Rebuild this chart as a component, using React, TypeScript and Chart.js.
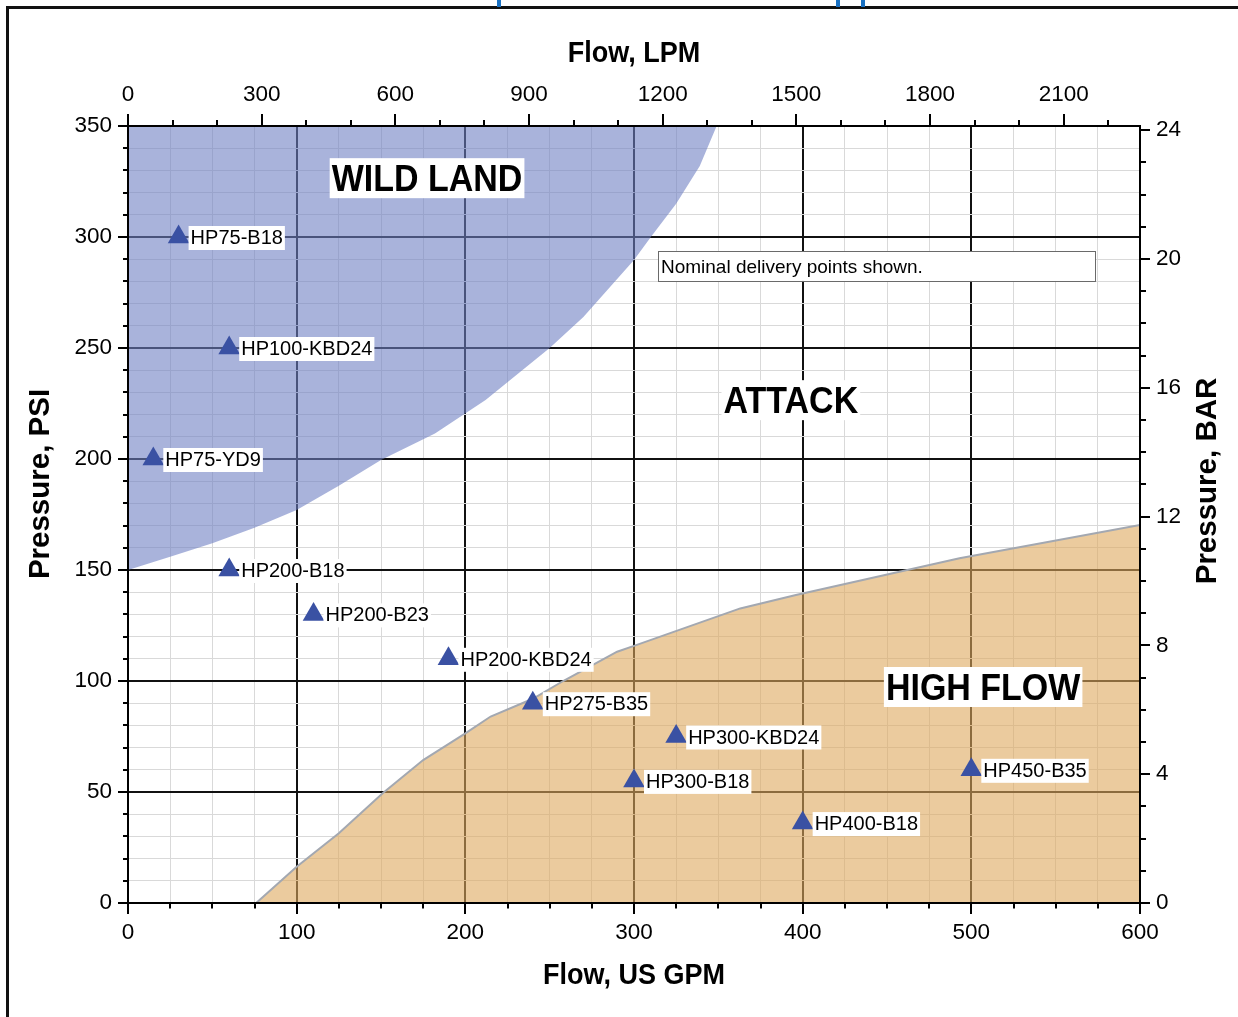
import React, { useEffect, useRef } from "react";
import { Chart, registerables } from "chart.js";

Chart.register(...registerables);

const FONT = 'Arial, "Liberation Sans", sans-serif';

// Boundary of the WILD LAND region (US GPM, PSI)
const wildLandFlow = [0, 25, 50, 75, 100, 125, 150, 182, 212, 250, 270, 300, 310, 325, 339, 349];
const wildLandPsi = [150, 156, 162, 169, 177, 188, 199.5, 211.5, 226.6, 250, 264, 289.6, 300, 315, 332, 350];

// Boundary of the HIGH FLOW region (US GPM, PSI)
const highFlowFlow = [76, 100, 125, 151, 175, 200, 215, 240, 258, 290, 300, 363, 396, 493, 600];
const highFlowPsi = [0, 16.3, 31.4, 49.4, 64.4, 76.4, 84, 92, 100, 113.2, 115.8, 132.7, 138.7, 155.3, 170.3];

// Nominal delivery points
const modelNames = ["HP75-B18", "HP100-KBD24", "HP75-YD9", "HP200-B18", "HP200-B23", "HP200-KBD24", "HP275-B35", "HP300-KBD24", "HP300-B18", "HP400-B18", "HP450-B35"];
const modelFlow = [30, 60, 15, 60, 110, 190, 240, 325, 300, 400, 500];
const modelPsi = [300, 250, 200, 150, 130, 110, 90, 75, 55, 36, 60];

// Region names and their anchor (GPM, PSI)
const regionNames = ["WILD LAND", "ATTACK", "HIGH FLOW"];
const regionFlow = [177.3, 393, 507];
const regionPsi = [326.5, 226.5, 97.3];

const noteText = "Nominal delivery points shown.";

// Axis ranges / tick steps
const gpmMax = 600;
const psiMax = 350;
const LPM_PER_GPM = 3.78541;
const PSI_PER_BAR = 14.5038;
const gpmTicks = Array.from({ length: 25 }, (_, i) => i * 25);
const psiTicks = Array.from({ length: 36 }, (_, i) => i * 10);
const lpmTicks = Array.from({ length: 23 }, (_, i) => i * 100);
const barTicks = Array.from({ length: 25 }, (_, i) => i);

const App = () => {
  const ref = useRef<HTMLCanvasElement>(null);

  useEffect(() => {
    const canvas = ref.current;
    if (!canvas) return;

    const deco = {
      id: "deco",
      beforeDraw(chart: any) {
        const ctx = chart.ctx;
        ctx.save();
        ctx.fillStyle = "#ffffff";
        ctx.fillRect(0, 0, chart.width, chart.height);
        ctx.restore();
      },
      afterDatasetsDraw(chart: any) {
        const ctx = chart.ctx;
        const xs = chart.scales.x;
        const ys = chart.scales.y;
        ctx.save();
        // model labels
        const meta = chart.getDatasetMeta(2);
        ctx.font = `20px ${FONT}`;
        ctx.textBaseline = "alphabetic";
        ctx.textAlign = "left";
        meta.data.forEach((pt: any, i: number) => {
          const t = modelNames[i];
          const w = ctx.measureText(t).width;
          const tx = pt.x + 12;
          ctx.fillStyle = "#ffffff";
          ctx.fillRect(tx - 2, pt.y - 11, w + 4, 24);
          ctx.fillStyle = "#000000";
          ctx.fillText(t, tx, pt.y + 7);
        });
        // region labels
        ctx.font = `bold 34px ${FONT}`;
        regionNames.forEach((t, i) => {
          const cx = xs.getPixelForValue(regionFlow[i]);
          const cy = ys.getPixelForValue(regionPsi[i]);
          const w = ctx.measureText(t).width;
          ctx.fillStyle = "#ffffff";
          ctx.fillRect(cx - w / 2 - 2, cy - 20, w + 4, 40);
          ctx.fillStyle = "#000000";
          ctx.textAlign = "center";
          ctx.save();
          ctx.translate(cx, cy + 13);
          ctx.scale(1, 1.08);
          ctx.fillText(t, 0, 0);
          ctx.restore();
        });
        // note box
        const bx0 = xs.getPixelForValue(314.2);
        const bx1 = xs.getPixelForValue(573.3);
        const by0 = ys.getPixelForValue(293.7);
        const by1 = ys.getPixelForValue(280.2);
        ctx.fillStyle = "#ffffff";
        ctx.fillRect(bx0, by0, bx1 - bx0, by1 - by0);
        ctx.strokeStyle = "#6a6a6a";
        ctx.lineWidth = 1;
        ctx.strokeRect(Math.round(bx0) + 0.5, Math.round(by0) + 0.5, Math.round(bx1 - bx0), Math.round(by1 - by0));
        ctx.fillStyle = "#000000";
        ctx.textAlign = "left";
        ctx.font = `19px ${FONT}`;
        ctx.fillText(noteText, bx0 + 3, (by0 + by1) / 2 + 7);
        ctx.restore();
      },
      afterDraw(chart: any) {
        const ctx = chart.ctx;
        const { left, right, top, bottom } = chart.chartArea;
        ctx.save();
        ctx.strokeStyle = "#000000";
        ctx.lineWidth = 2;
        ctx.beginPath();
        const sx = chart.scales.x;
        sx.ticks.forEach((t: any) => {
          const p = Math.round(sx.getPixelForValue(t.value));
          const len = t.value % 100 === 0 ? 11 : 5.5;
          ctx.moveTo(p, bottom);
          ctx.lineTo(p, bottom + len);
        });
        const sy = chart.scales.y;
        sy.ticks.forEach((t: any) => {
          const p = Math.round(sy.getPixelForValue(t.value));
          const len = t.value % 50 === 0 ? 10 : 5;
          ctx.moveTo(left, p);
          ctx.lineTo(left - len, p);
        });
        const sx2 = chart.scales.x2;
        sx2.ticks.forEach((t: any) => {
          if (t.value % 100 !== 0) return;
          const p = Math.round(sx2.getPixelForValue(t.value));
          const len = t.value % 300 === 0 ? 12 : 6;
          ctx.moveTo(p, top);
          ctx.lineTo(p, top - len);
        });
        const sy2 = chart.scales.y2;
        sy2.ticks.forEach((t: any) => {
          if (Math.abs(t.value - Math.round(t.value)) > 1e-6) return;
          const p = Math.round(sy2.getPixelForValue(t.value));
          const len = t.value % 4 === 0 ? 10 : 6;
          ctx.moveTo(right, p);
          ctx.lineTo(right + len, p);
        });
        ctx.stroke();

        // axis titles
        ctx.fillStyle = "#000000";
        ctx.textAlign = "center";
        ctx.textBaseline = "middle";
        ctx.font = `bold 27px ${FONT}`;
        ctx.save();
        ctx.translate((left + right) / 2, 54);
        ctx.scale(1, 1.08);
        ctx.fillText("Flow, LPM", 0, 0);
        ctx.restore();
        ctx.save();
        ctx.translate((left + right) / 2, 976);
        ctx.scale(1, 1.08);
        ctx.fillText("Flow, US GPM", 0, 0);
        ctx.restore();
        ctx.font = `bold 29.5px ${FONT}`;
        ctx.save();
        ctx.translate(41, 484);
        ctx.rotate(-Math.PI / 2);
        ctx.fillText("Pressure, PSI", 0, 0);
        ctx.restore();
        ctx.save();
        ctx.translate(1208, 481);
        ctx.rotate(-Math.PI / 2);
        ctx.fillText("Pressure, BAR", 0, 0);
        ctx.restore();

        // outer frame of the page
        ctx.fillStyle = "#111111";
        ctx.fillRect(6, 6, chart.width - 6, 3);
        ctx.fillRect(6, 6, 3, chart.height - 6);
        ctx.fillStyle = "#1a72c4";
        ctx.fillRect(497, 0, 4, 7);
        ctx.fillRect(836, 0, 4, 7);
        ctx.fillRect(861, 0, 4, 7);
        ctx.restore();
      },
    };

    const majorGrid = (step: number) => ({
      drawTicks: false,
      color: (c: any) => (c.tick && c.tick.value % step === 0 ? "#111111" : "#d9d9d9"),
      lineWidth: (c: any) => (c.tick && c.tick.value % step === 0 ? 2 : 1),
    });

    const tickFont = { family: FONT, size: 22.5 };

    const chart = new Chart(canvas, {
      type: "scatter",
      data: {
        datasets: [
          {
            type: "line",
            label: "Wild land",
            data: wildLandFlow.map((x, i) => ({ x, y: wildLandPsi[i] })),
            fill: "end",
            backgroundColor: "rgba(112,128,195,0.6)",
            borderColor: "rgba(0,0,0,0)",
            borderWidth: 0,
            pointRadius: 0,
            tension: 0,
            showLine: true,
            order: 3,
            xAxisID: "x",
            yAxisID: "y",
          },
          {
            type: "line",
            label: "High flow",
            data: highFlowFlow.map((x, i) => ({ x, y: highFlowPsi[i] })),
            fill: "origin",
            backgroundColor: "rgba(222,168,93,0.6)",
            borderColor: "#a3a8b1",
            borderWidth: 2,
            pointRadius: 0,
            tension: 0,
            showLine: true,
            order: 2,
            xAxisID: "x",
            yAxisID: "y",
          },
          {
            type: "scatter",
            label: "Models",
            data: modelFlow.map((x, i) => ({ x, y: modelPsi[i] })),
            pointStyle: "triangle",
            pointRadius: 12.5,
            pointHoverRadius: 12.5,
            backgroundColor: "#3a51a3",
            borderColor: "#3a51a3",
            borderWidth: 0,
            order: 1,
            xAxisID: "x",
            yAxisID: "y",
          },
        ],
      } as any,
      options: {
        responsive: false,
        animation: false,
        devicePixelRatio: 1,
        layout: { padding: 0 },
        plugins: { legend: { display: false }, tooltip: { enabled: false } },
        scales: {
          x: {
            type: "linear",
            position: "bottom",
            min: 0,
            max: gpmMax,
            afterBuildTicks: (s: any) => {
              s.ticks = gpmTicks.map((v) => ({ value: v }));
            },
            afterFit: (s: any) => {
              s.height = 114;
            },
            ticks: {
              autoSkip: false,
              maxRotation: 0,
              padding: 16,
              color: "#000000",
              font: tickFont,
              callback: (v: any) => (Number(v) % 100 === 0 ? String(v) : ""),
            },
            grid: majorGrid(100),
            border: { display: true, color: "#000000", width: 2, z: 1 },
          },
          y: {
            type: "linear",
            position: "left",
            min: 0,
            max: psiMax,
            afterBuildTicks: (s: any) => {
              s.ticks = psiTicks.map((v) => ({ value: v }));
            },
            afterFit: (s: any) => {
              s.width = 128;
            },
            ticks: {
              autoSkip: false,
              padding: 16,
              color: "#000000",
              font: tickFont,
              callback: (v: any) => (Number(v) % 50 === 0 ? String(v) : ""),
            },
            grid: majorGrid(50),
            border: { display: true, color: "#000000", width: 2, z: 1 },
          },
          x2: {
            type: "linear",
            position: "top",
            min: 0,
            max: gpmMax * LPM_PER_GPM,
            afterBuildTicks: (s: any) => {
              s.ticks = lpmTicks.map((v) => ({ value: v }));
            },
            afterFit: (s: any) => {
              s.height = 126;
            },
            ticks: {
              autoSkip: false,
              maxRotation: 0,
              padding: 18,
              color: "#000000",
              font: tickFont,
              callback: (v: any) => (Number(v) % 300 === 0 ? String(v) : ""),
            },
            grid: { drawOnChartArea: false, drawTicks: false },
            border: { display: true, color: "#000000", width: 2, z: 1 },
          },
          y2: {
            type: "linear",
            position: "right",
            min: 0,
            max: psiMax / PSI_PER_BAR,
            afterBuildTicks: (s: any) => {
              s.ticks = barTicks.map((v) => ({ value: v }));
            },
            afterFit: (s: any) => {
              s.width = 98;
            },
            ticks: {
              autoSkip: false,
              padding: 16,
              color: "#000000",
              font: tickFont,
              callback: (v: any) => (Number(v) % 4 === 0 ? String(v) : ""),
            },
            grid: { drawOnChartArea: false, drawTicks: false },
            border: { display: true, color: "#000000", width: 2, z: 1 },
          },
        },
      } as any,
      plugins: [deco],
    });

    return () => {
      chart.destroy();
    };
  }, []);

  return (
    <div style={{ position: "absolute", left: 0, top: 0, width: 1238, height: 1017, background: "#ffffff" }}>
      <canvas ref={ref} width={1238} height={1017} style={{ display: "block", width: 1238, height: 1017 }} />
    </div>
  );
};

export default App;
